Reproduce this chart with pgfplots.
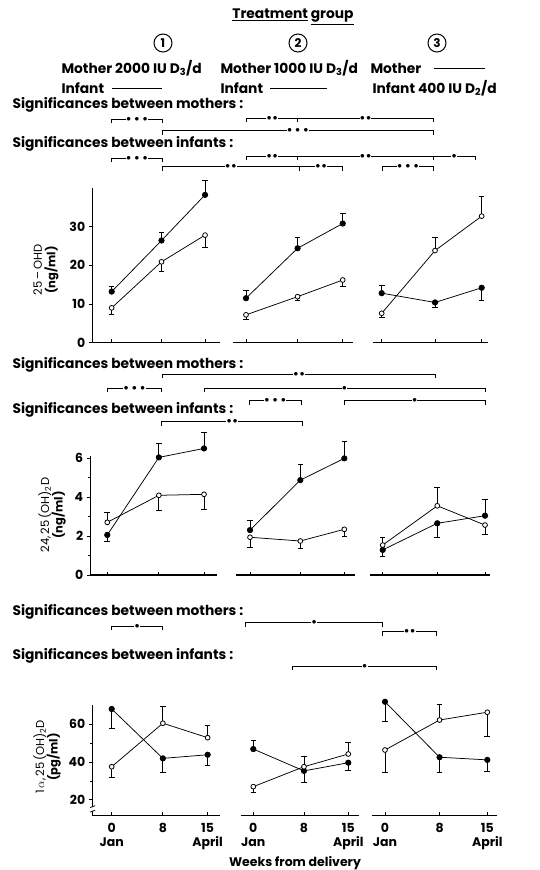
\documentclass[border=0pt]{standalone}
\usepackage{fontspec}
\setmainfont{Poppins}
\usepackage{pgfplots}
\pgfplotsset{compat=1.18}

\pgfplotsset{
  panel/.style={scale only axis, anchor=south west, clip=false,
    axis x line*=bottom, axis y line*=left,
    axis line style={line width=1.5pt,-},
    xtick={0,8,15}, xticklabels={},
    tick style={black, line width=0.9pt},
    major tick length=4pt, minor tick length=3pt,
    tick align=outside,
    xtick style={yshift=3.5pt},
    /pgf/number format/assume math mode=true,
    yticklabel style={font=\fontsize{12.5}{12}\selectfont\bfseries},
    xticklabel style={font=\fontsize{12.5}{14}\selectfont\bfseries, align=center},
  },
  noy/.style={axis y line=none, ytick=\empty},
  mo/.style={black, line width=0.75pt, mark=*, mark size=2.7pt, mark options={solid, fill=black}},
  inf/.style={black, line width=0.75pt, mark=*, mark size=2.4pt, mark options={solid, fill=white, line width=0.8pt}},
  eb/.style={draw=none, mark=none, forget plot, error bars/.cd, y dir=#1, y explicit,
    error bar style={draw=black, line width=0.8pt},
    error mark options={draw=black, rotate=90, mark size=2.8pt, line width=0.8pt}},
}

% significance bracket: x1, x2, y, label
\newcommand\brk[4]{%
  \draw[line width=0.6pt] (#1,#3+4) -- (#1,#3) -- (#2,#3) -- (#2,#3+4);
  \node[fill=white, inner sep=0.5pt, font=\fontsize{9.5}{8}\selectfont] at ({(#1+#2)/2},#3) {#4};}
\newcommand\sA{$\bullet$}
\newcommand\sB{$\bullet\,\bullet$}
\newcommand\sC{$\bullet\,\bullet\,\bullet$}

\begin{document}
\begin{tikzpicture}
\useasboundingbox (0,0) rectangle (540pt,-870pt);

% ---------------- row 1: 25-OHD ----------------
\begin{axis}[panel, at={(92.7pt,-342.7pt)}, width=127.3pt, height=154.8pt,
  xmin=-3.05, xmax=17.4, ymin=0, ymax=40, ytick={0,10,20,30}]
\addplot[eb=plus] coordinates {(0,13.2) +- (0,1.3) (8,26.4) +- (0,2.1) (15,38.2) +- (0,3.7)};
\addplot[eb=minus] coordinates {(0,9.0) +- (0,1.8) (8,20.9) +- (0,2.5) (15,27.8) +- (0,3.1)};
\addplot[mo] coordinates {(0,13.2) (8,26.4) (15,38.2)};
\addplot[inf] coordinates {(0,9.0) (8,20.9) (15,27.8)};
\end{axis}

\begin{axis}[panel, noy, at={(233.3pt,-342.7pt)}, width=120pt, height=154.8pt,
  xmin=-1.97, xmax=16.64, ymin=0, ymax=40]
\addplot[eb=plus] coordinates {(0,11.5) +- (0,2.1) (8,24.4) +- (0,2.7) (15,30.8) +- (0,2.6)};
\addplot[eb=minus] coordinates {(0,7.2) +- (0,1.3) (8,11.9) +- (0,1.0) (15,16.2) +- (0,1.6)};
\addplot[mo] coordinates {(0,11.5) (8,24.4) (15,30.8)};
\addplot[inf] coordinates {(0,7.2) (8,11.9) (15,16.2)};
\end{axis}

\begin{axis}[panel, noy, at={(372.7pt,-342.7pt)}, width=115.3pt, height=154.8pt,
  xmin=-1.35, xmax=15.95, ymin=0, ymax=40]
\addplot[eb=plus] coordinates {(0,12.8) +- (0,2.1) (8,23.8) +- (0,3.3) (15,32.7) +- (0,5.2)};
\addplot[eb=minus] coordinates {(8,10.4) +- (0,1.3) (15,14.2) +- (0,3.2) (0,7.6) +- (0,1.1)};
\addplot[mo] coordinates {(0,12.8) (8,10.4) (15,14.2)};
\addplot[inf] coordinates {(0,7.6) (8,23.8) (15,32.7)};
\end{axis}

% ---------------- row 2: 24,25(OH)2D ----------------
\begin{axis}[panel, at={(90.7pt,-575pt)}, width=126pt, height=118.6pt,
  xmin=-2.57, xmax=16.97, ymin=0, ymax=6.1, ytick={0,2,4,6}, minor ytick={1,3,5}]
\addplot[eb=plus] coordinates {(8,6.05) +- (0,0.72) (15,6.51) +- (0,0.81) (0,2.71) +- (0,0.49)};
\addplot[eb=minus] coordinates {(0,2.06) +- (0,0.35) (8,4.10) +- (0,0.76) (15,4.15) +- (0,0.76)};
\addplot[mo] coordinates {(0,2.06) (8,6.05) (15,6.51)};
\addplot[inf] coordinates {(0,2.71) (8,4.10) (15,4.15)};
\end{axis}

\begin{axis}[panel, noy, at={(236pt,-575pt)}, width=119pt, height=118.6pt,
  xmin=-2.23, xmax=16.7, ymin=0, ymax=6.1]
\addplot[eb=plus] coordinates {(0,2.31) +- (0,0.52) (8,4.88) +- (0,0.81) (15,6.0) +- (0,0.85)};
\addplot[eb=minus] coordinates {(0,1.94) +- (0,0.52) (8,1.75) +- (0,0.38) (15,2.35) +- (0,0.38)};
\addplot[mo] coordinates {(0,2.31) (8,4.88) (15,6.0)};
\addplot[inf] coordinates {(0,1.94) (8,1.75) (15,2.35)};
\end{axis}

\begin{axis}[panel, noy, at={(370pt,-575pt)}, width=120pt, height=118.6pt,
  xmin=-1.86, xmax=15.73, ymin=0, ymax=6.1]
\addplot[eb=plus] coordinates {(15,3.05) +- (0,0.84) (0,1.54) +- (0,0.38) (8,3.56) +- (0,0.93)};
\addplot[eb=minus] coordinates {(0,1.29) +- (0,0.31) (8,2.66) +- (0,0.72) (15,2.57) +- (0,0.48)};
\addplot[mo] coordinates {(0,1.29) (8,2.66) (15,3.05)};
\addplot[inf] coordinates {(0,1.54) (8,3.56) (15,2.57)};
\end{axis}

% ---------------- row 3: 1a,25(OH)2D ----------------
\begin{axis}[panel, at={(92.7pt,-815.7pt)}, width=127.3pt, height=110.7pt,
  xmin=-2.97, xmax=16.93, ymin=11.7, ymax=70, ytick={20,40,60}, minor ytick={30,50},
  xticklabels={{0\\Jan},8,{15\\April}}]
\addplot[eb=plus] coordinates {(8,60.4) +- (0,8.7) (15,52.8) +- (0,6.3)};
\addplot[eb=minus] coordinates {(0,67.9) +- (0,10.2) (8,41.9) +- (0,7.5) (15,43.8) +- (0,5.4) (0,37.5) +- (0,5.6)};
\addplot[mo] coordinates {(0,67.9) (8,41.9) (15,43.8)};
\addplot[inf] coordinates {(0,37.5) (8,60.4) (15,52.8)};
% axis break mark
\draw[white, line width=3pt] (axis cs:-2.97,14.2) -- (axis cs:-2.97,16.4);
\draw[line width=0.8pt] ([xshift=-2.5pt]axis cs:-2.97,13.6) -- ([xshift=2.5pt]axis cs:-2.97,14.6);
\draw[line width=0.8pt] ([xshift=-2.5pt]axis cs:-2.97,16.0) -- ([xshift=2.5pt]axis cs:-2.97,17.0);
\end{axis}

\begin{axis}[panel, noy, at={(240.7pt,-815.7pt)}, width=118.6pt, height=110.7pt,
  xmin=-1.99, xmax=16.74, ymin=11.7, ymax=70,
  xticklabels={{0\\Jan},8,{15\\April}}]
\addplot[eb=plus] coordinates {(0,46.8) +- (0,4.3) (8,37.5) +- (0,5.3) (15,44.2) +- (0,6.0)};
\addplot[eb=minus] coordinates {(8,35.3) +- (0,6.0) (15,39.6) +- (0,4.2) (0,27.0) +- (0,2.9)};
\addplot[mo] coordinates {(0,46.8) (8,35.3) (15,39.6)};
\addplot[inf] coordinates {(0,27.0) (8,37.5) (15,44.2)};
\end{axis}

\begin{axis}[panel, noy, at={(371.7pt,-815.7pt)}, width=125pt, height=110.7pt,
  xmin=-1.95, xmax=16.38, ymin=11.7, ymax=70,
  xticklabels={{0\\Jan},8,{15\\April}}]
\addplot[eb=plus] coordinates {(8,62.1) +- (0,8.4)};
\addplot[eb=minus] coordinates {(0,71.7) +- (0,10.5) (8,42.5) +- (0,7.9) (15,41.1) +- (0,6.2) (0,46.3) +- (0,11.9) (15,66.2) +- (0,12.9)};
\addplot[mo] coordinates {(0,71.7) (8,42.5) (15,41.1)};
\addplot[inf] coordinates {(0,46.3) (8,62.1) (15,66.2)};
\end{axis}

% ---------------- text and brackets ----------------
\begin{scope}[x=1pt, y=-1pt, font=\fontsize{13.8}{14}\selectfont\bfseries]
\node at (293,17) {\underline{Treatment} \underline{group}};
\foreach \xx/\nn in {163/1, 298/2, 437/3} {
  \draw[line width=1pt] (\xx,43) circle (9);
  \node[font=\fontsize{12}{12}\selectfont\bfseries] at (\xx,43) {\nn};
}
\node[anchor=west] at (58,68) {Mother 2000 IU D\textsubscript{3}/d};
\node[anchor=west] at (58,88) {Infant};
\draw[line width=0.9pt] (112,88) -- (162,88);
\node[anchor=west] at (217,68) {Mother 1000 IU D\textsubscript{3}/d};
\node[anchor=west] at (217,88) {Infant};
\draw[line width=0.9pt] (270,88) -- (327,88);
\node[anchor=west] at (367,68) {Mother};
\draw[line width=0.9pt] (434,68) -- (485,68);
\node[anchor=west] at (369,88) {Infant 400 IU D\textsubscript{2}/d};

% row 1 significances
\node[anchor=west] at (9,104.5) {Significances between mothers :};
\brk{111.7}{162.3}{119.3}{\sC}
\brk{246.7}{297.7}{118.3}{\sB}
\brk{297.7}{433.3}{118.3}{\sB}
\brk{162.3}{433.3}{130.7}{\sC}
\node[anchor=west] at (9,144) {Significances between infants :};
\brk{111.7}{162.3}{158}{\sC}
\brk{246.7}{297.7}{156}{\sB}
\brk{297.7}{433.3}{156}{\sB}
\brk{433.3}{475}{156}{\sA}
\brk{162.3}{299.3}{166.7}{\sB}
\brk{299.3}{342.7}{166.7}{\sB}
\brk{382.7}{433.3}{166.7}{\sC}

% row 2 significances
\node[anchor=west] at (9,364.5) {Significances between mothers :};
\brk{162.3}{435.7}{374}{\sB}
\brk{107.3}{161.7}{388}{\sC}
\brk{204}{485}{388}{\sA}
\node[anchor=west] at (9,409.5) {Significances between infants :};
\brk{249.3}{301}{400.5}{\sC}
\brk{344.3}{485}{400.5}{\sA}
\brk{161.7}{302.7}{421.5}{\sB}

% row 3 significances
\node[anchor=west] at (9,612) {Significances between mothers :};
\brk{111.7}{162.7}{626}{\sA}
\brk{245.7}{382.7}{622.7}{\sA}
\brk{382.7}{436.7}{631.7}{\sB}
\node[anchor=west] at (9,656) {Significances between infants :};
\brk{292.7}{436.7}{666}{\sA}

% y axis labels
\node[rotate=90, align=center, font=\fontsize{11.5}{13.5}\selectfont] at (46,270) {25\,–\,OHD\\\bfseries(ng/ml)};
\node[rotate=90, align=center, font=\fontsize{11.5}{13.5}\selectfont] at (52,515) {24,\,25\,(OH)\textsubscript{2}D\\\bfseries(ng/ml)};
\node[rotate=90, align=center, font=\fontsize{11.5}{13.5}\selectfont] at (47,757) {1\,$\alpha$,\,25\,(OH)\textsubscript{2}D\\\bfseries(pg/ml)};

\node[font=\fontsize{12.5}{14}\selectfont\bfseries] at (295,863) {Weeks from delivery};
\end{scope}
\end{tikzpicture}
\end{document}
